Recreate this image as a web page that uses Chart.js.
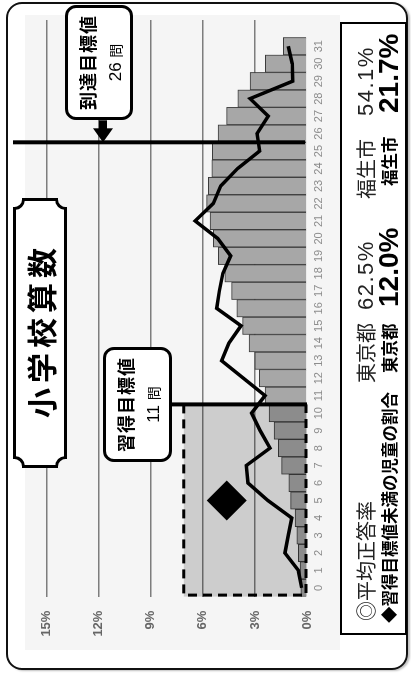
<!DOCTYPE html>
<html><head><meta charset="utf-8">
<script src="https://cdn.jsdelivr.net/npm/chart.js@4.4.1/dist/chart.umd.min.js"></script>
<style>
html,body{margin:0;padding:0;background:#fff;}
body{width:411px;height:675px;overflow:hidden;position:relative;}
#stage{position:absolute;left:0;top:0;width:675px;height:411px;transform-origin:0 0;transform:translateY(675px) rotate(-90deg);font-family:"Liberation Sans","Noto Sans CJK JP",sans-serif;color:#000;}
.abs{position:absolute;}
#frame{left:5px;top:6px;width:668px;height:402px;box-sizing:border-box;border:2px solid #111;border-radius:16px;box-shadow:-1px 2px 2px rgba(0,0,0,0.25);}
#panel{left:25px;top:25px;width:635px;height:315px;background:#f5f5f5;}
#cwrap{left:0;top:0;width:675px;height:411px;}
#title{left:207px;top:13px;width:270px;height:54px;}
#title svg{position:absolute;left:0;top:0;}
#title .t{position:absolute;left:0;top:0;width:100%;height:100%;display:flex;align-items:center;justify-content:center;font-family:"Noto Sans CJK JP";font-weight:bold;font-size:30px;letter-spacing:5px;padding-left:5px;box-sizing:border-box;}
.note{box-sizing:border-box;border:3px solid #000;border-radius:11px;background:#fff;width:115px;height:68px;}
.note .a{position:absolute;left:0;right:0;top:7px;text-align:center;font-family:"Noto Sans CJK JP";font-weight:bold;font-size:18px;line-height:24px;letter-spacing:1px;}
.note .b{position:absolute;left:0;right:0;top:35px;text-align:center;font-size:17px;line-height:24px;}
.note .b small{font-family:"Noto Sans CJK JP";font-size:14px;}
#legend{left:40px;top:340px;width:613px;height:67px;box-sizing:border-box;border:2.5px solid #000;background:#fff;}
#legend span{position:absolute;white-space:nowrap;transform:translateY(-50%);line-height:1;}
.r1{top:23.5px;color:#222;}
.r2{top:46.5px;font-weight:bold;}
.jp1{font-family:"Noto Sans CJK JP";font-size:20px;}
.n1{font-size:22px;letter-spacing:1.5px;}
.jp2{font-family:"Noto Sans CJK JP";font-size:16.5px;font-weight:bold;}
.n2{font-size:28px;font-weight:bold;}
</style></head>
<body>
<div id="stage">
  <div id="frame" class="abs"></div>
  <div id="panel" class="abs"></div>
  <div id="cwrap" class="abs"><canvas id="c" width="675" height="411"></canvas></div>
  <div id="title" class="abs">
    <svg width="270" height="54"><path d="M 10.5 1.5 H 259.5 A 9 9 0 0 0 268.5 10.5 V 43.5 A 9 9 0 0 0 259.5 52.5 H 10.5 A 9 9 0 0 0 1.5 43.5 V 10.5 A 9 9 0 0 0 10.5 1.5 Z" fill="#fff" stroke="#000" stroke-width="3"/></svg>
    <div class="t">小学校算数</div>
  </div>
  <div class="abs note" style="left:555px;top:65px;"><div class="a">到達目標値</div><div class="b">26 <small>問</small></div></div>
  <div class="abs note" style="left:213px;top:103px;height:69px;"><div class="a">習得目標値</div><div class="b">11 <small>問</small></div></div>
  <div id="legend" class="abs">
    <span class="r1 jp1" style="left:12px;">◎平均正答率</span>
    <span class="r1 jp1" style="left:250px;">東京都</span>
    <span class="r1 n1" style="left:323px;">62.5%</span>
    <span class="r1 jp1" style="left:434px;">福生市</span>
    <span class="r1 n1" style="left:517px;">54.1%</span>
    <span class="r2 jp2" style="left:10px;">◆習得目標値未満の児童の割合</span>
    <span class="r2 jp2" style="left:260px;">東京都</span>
    <span class="r2 n2" style="left:326px;">12.0%</span>
    <span class="r2 jp2" style="left:447px;">福生市</span>
    <span class="r2 n2" style="left:520px;">21.7%</span>
  </div>
</div>
<script>
// score categories (number of correct answers); last slot is an empty spacer
const categories = ['0','1','2','3','4','5','6','7','8','9','10','11','12','13','14','15','16','17','18','19','20','21','22','23','24','25','26','27','28','29','30','31',''];
// 東京都: share of pupils (%) per score (bars)
const tokyoShare = [0.36,0.40,0.50,0.59,0.69,0.94,1.04,1.46,1.65,1.90,2.19,2.42,2.75,3.00,3.34,3.71,4.05,4.34,4.73,5.11,5.40,5.59,5.78,5.69,5.49,5.45,5.13,4.63,3.99,3.28,2.40,1.37];
// 福生市: share of pupils (%) per score (line)
const fussaShare = [0.31,0.50,1.27,1.08,0.88,2.25,3.40,3.50,2.13,2.70,3.19,2.42,3.67,4.92,4.50,3.80,5.20,5.05,4.85,4.40,5.15,6.45,5.40,4.97,4.00,2.73,2.88,2.23,3.28,0.82,0.85,1.08];
// diamond marker
const diamondPoint = [{x:'5', y:4.63}];
// y ticks
const yTickValues = [0,3,6,9,12,15];
const HABIT_GOAL = 11;   // 習得目標値
const REACH_GOAL = 26;   // 到達目標値
const BOX_TOP = 7.1;     // top of the shaded box (%)

const annot = {
  id:'annot',
  afterDatasetDraw(chart, args){
    if(args.index!==0) return;
    const {ctx, chartArea:a, scales:{x,y}} = chart;
    const bx = x.getPixelForValue(HABIT_GOAL-0.5);
    const yt = y.getPixelForValue(BOX_TOP), y0 = y.getPixelForValue(0);
    ctx.save();
    ctx.fillStyle='rgba(0,0,0,0.16)';
    ctx.fillRect(a.left, yt, bx-a.left, y0-yt);
    ctx.restore();
  },
  afterDatasetsDraw(chart){
    const {ctx, chartArea:a, scales:{x,y}} = chart;
    const bx = x.getPixelForValue(HABIT_GOAL-0.5);
    const rx = x.getPixelForValue(REACH_GOAL-0.5);
    const yt = y.getPixelForValue(BOX_TOP), y0 = y.getPixelForValue(0);
    ctx.save();
    ctx.strokeStyle='#000';
    ctx.lineWidth=3;
    ctx.setLineDash([9,6]);
    ctx.beginPath();
    ctx.moveTo(bx, yt); ctx.lineTo(a.left+1.5, yt); ctx.lineTo(a.left+1.5, y0-1); ctx.lineTo(bx, y0-1);
    ctx.stroke();
    ctx.setLineDash([]);
    ctx.lineWidth=4;
    ctx.beginPath(); ctx.moveTo(bx,172); ctx.lineTo(bx,y0); ctx.stroke();
    ctx.beginPath(); ctx.moveTo(rx,13); ctx.lineTo(rx,y0-2); ctx.stroke();
    // arrow from the 到達 note to its line
    ctx.fillStyle='#000';
    ctx.beginPath(); ctx.moveTo(rx,103); ctx.lineTo(rx+14,93); ctx.lineTo(rx+14,113); ctx.closePath(); ctx.fill();
    ctx.fillRect(rx+13, 99, 9, 8);
    ctx.restore();
  }
};

const fam = "'Liberation Sans Narrow','Liberation Sans',sans-serif";
new Chart(document.getElementById('c'), {
  data:{
    labels: categories,
    datasets:[
      {type:'bar', data: tokyoShare, backgroundColor:'#a7a7a7', borderColor:'#3c3c3c', borderWidth:1, barPercentage:1, categoryPercentage:1, order:3},
      {type:'line', data: fussaShare, borderColor:'#000', borderWidth:3.5, pointRadius:0, tension:0, fill:false, order:2},
      {type:'line', data: diamondPoint, showLine:false, pointStyle:'rectRot', pointRadius:20, pointHoverRadius:20, pointBackgroundColor:'#000', pointBorderColor:'#000', pointBorderWidth:0, order:1}
    ]
  },
  options:{
    responsive:false, animation:false, devicePixelRatio:1,
    layout:{padding:{left:0,right:17.8,top:46.7,bottom:0}},
    plugins:{legend:{display:false}, tooltip:{enabled:false}},
    scales:{
      x:{offset:true, grid:{display:false, drawTicks:false}, border:{display:false},
         ticks:{autoSkip:false, maxRotation:0, minRotation:0, padding:5, color:'#8a8a8a', font:{family:fam, size:11}},
         afterFit(s){ s.height = 104; }},
      y:{min:0, max:15,
         grid:{color: c => c.tick.value===0 ? 'rgba(0,0,0,0)' : '#7d7d7d', lineWidth:1.5, drawTicks:false},
         border:{display:false},
         afterBuildTicks(s){ s.ticks = yTickValues.map(v=>({value:v})); },
         ticks:{padding:14, color:'#666', font:{family:fam, size:13, weight:'bold'}, callback: v => v+'%'},
         afterFit(s){ s.width = 78.4; }}
    }
  },
  plugins:[annot]
});
</script>
</body></html>
